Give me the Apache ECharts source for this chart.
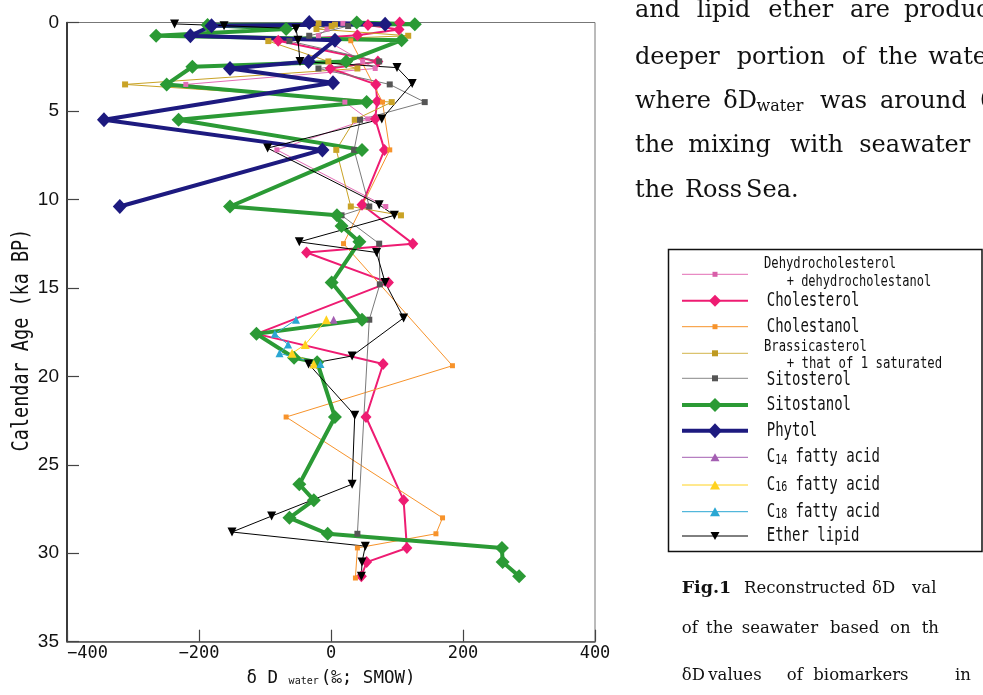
<!DOCTYPE html>
<html><head><meta charset="utf-8">
<script src="https://cdn.jsdelivr.net/npm/echarts@6/dist/echarts.min.js"></script>
<style>html,body{margin:0;padding:0;background:#fff;}#c{width:983px;height:695px;}</style>
</head><body><div id="c"></div>
<script>
// ---- data (age in ka BP, dD water in permil SMOW) ----
const xTicks = [-400, -200, 0, 200, 400];
const yTicks = [0, 5, 10, 15, 20, 25, 30, 35];

const dehydroAge = [0.05, 0.37, 0.75, 2.2, 2.6, 3.5, 4.5, 5.45, 7.2, 10.4];
const dehydroDD  = [18, -6, -19, 48, 67, -220, 21, 56, -82, 83];

const cholesterolAge = [0, 0.14, 0.39, 0.72, 1.03, 2.2, 2.6, 3.5, 4.45, 5.45, 7.2, 10.3, 12.5, 13.0, 14.7, 17.6, 19.3, 22.3, 27.0, 29.7, 30.5, 31.3];
const cholesterolDD  = [104, 56, 103, 40, -80, 71, -1, 68, 70, 67, 81, 47, 124, -37, 87, -113, 79, 53, 110, 115, 54, 46];

const cholestanolAge = [1.03, 4.5, 7.2, 12.5, 19.4, 22.3, 28.0, 28.9, 29.7, 31.4];
const cholestanolDD  = [30, 78, 89, 19, 184, -68, 169, 159, 40, 37];

const brassicaAge = [0.05, 0.12, 0.2, 0.37, 0.75, 1.05, 2.2, 2.6, 3.5, 4.5, 5.5, 7.2, 10.4, 10.9];
const brassicaDD  = [-19, 6, 1, -22, 117, -95, -4, 40, -312, 92, 36, 8, 30, 106];

const sitosterolAge = [0.2, 0.75, 1.05, 2.2, 2.6, 3.5, 4.5, 5.5, 7.2, 10.4, 10.9, 12.5, 14.8, 16.8, 28.9];
const sitosterolDD  = [26, -33, -63, 73, -19, 89, 142, 44, 35, 58, 16, 73, 74, 58, 40];

const sitostanolAge = [0, 0.1, 0.14, 0.37, 0.75, 1.0, 2.2, 2.5, 3.5, 4.5, 5.5, 7.2, 10.4, 10.9, 11.5, 12.4, 14.7, 16.8, 17.6, 18.95, 19.2, 22.3, 26.1, 27.0, 28.0, 28.9, 29.7, 30.5, 31.3];
const sitostanolDD  = [39, 127, -187, -68, -265, 107, 23, -210, -249, 54, -231, 47, -153, 9, 16, 43, 1, 47, -113, -56, -21, 6, -48, -26, -63, -5, 259, 260, 285];

const phytolAge = [0, 0.1, 0.18, 0.75, 1.0, 2.2, 2.6, 3.4, 5.5, 7.2, 10.4];
const phytolDD  = [-33, 82, -181, -213, 6, -34, -153, 3, -344, -13, -320];

const c14Age = [16.8];
const c14DD  = [4];

const c16Age = [16.8, 18.2, 18.7, 19.3];
const c16DD  = [-7, -39, -59, -26];

const c18Age = [16.8, 17.6, 18.2, 18.7, 19.3];
const c18DD  = [-53, -85, -65, -78, -16];

const etherAge = [0.08, 0.18, 0.35, 1.0, 2.2, 2.55, 3.45, 5.45, 7.1, 10.3, 10.9, 12.4, 13.0, 14.7, 16.7, 18.85, 19.3, 22.2, 26.1, 27.9, 28.8, 29.6, 30.5, 31.3];
const etherDD  = [-237, -162, -53, -50, -47, 100, 123, 77, -96, 73, 96, -48, 69, 82, 110, 32, -34, 36, 32, -90, -150, 52, 47, 46];

// ---- styles ----
const C = {
  dehydro: '#E36DB5', chol: '#EE1C72', cholan: '#F7932B', brass: '#C9A326',
  sitoster: '#7A7A7A', sitostan: '#2B9A35', phytol: '#1D1A7F',
  c14: '#A45FB2', c16: '#FFD21E', c18: '#2AA7D3', ether: '#000000'
};

function pairs(xs, ys) { return xs.map((x, i) => [x, ys[i]]); }
function mk(name, xs, ys, color, width, symbol, size, extra) {
  return Object.assign({
    name, type: 'line', data: pairs(xs, ys), symbol, symbolSize: size,
    showAllSymbol: true, silent: true, animation: false,
    lineStyle: { color, width }, itemStyle: { color }
  }, extra || {});
}

const series = [
  mk('Dehydrocholesterol', dehydroDD, dehydroAge, C.dehydro, 1, 'rect', 5),
  mk('Cholesterol', cholesterolDD, cholesterolAge, C.chol, 2, 'diamond', [11, 12]),
  mk('Cholestanol', cholestanolDD, cholestanolAge, C.cholan, 1, 'rect', 5),
  mk('Brassicasterol', brassicaDD, brassicaAge, C.brass, 1, 'rect', 6),
  mk('Sitosterol', sitosterolDD, sitosterolAge, C.sitoster, 1, 'rect', 6, { itemStyle: { color: '#555555' } }),
  mk('Sitostanol', sitostanolDD, sitostanolAge, C.sitostan, 4, 'diamond', [14, 14]),
  mk('Phytol', phytolDD, phytolAge, C.phytol, 4, 'diamond', [14, 15]),
  mk('C14 fatty acid', c14DD, c14Age, C.c14, 1, 'triangle', 8),
  mk('C16 fatty acid', c16DD, c16Age, C.c16, 1, 'triangle', 9),
  mk('C18 fatty acid', c18DD, c18Age, C.c18, 1, 'triangle', 8),
  mk('Ether lipid', etherDD, etherAge, C.ether, 1, 'triangle', 9, { symbolRotate: 180 })
];

// ---- legend (drawn as graphics) ----
const LX1 = 682, LX2 = 748, LM = 715;
const rowsY = [274.3, 300.7, 326.7, 353.3, 378.3, 405, 430.7, 457.3, 485, 511.7, 536];
const graphics = [];
graphics.push({ type: 'rect', shape: { x: 668.5, y: 249.5, width: 313.5, height: 302 },
  style: { fill: 'none', stroke: '#111', lineWidth: 1.5 } });
function legLine(y, color, w) {
  graphics.push({ type: 'line', shape: { x1: LX1, y1: y, x2: LX2, y2: y }, style: { stroke: color, lineWidth: w } });
}
function sq(y, color, s) {
  graphics.push({ type: 'rect', shape: { x: LM - s / 2, y: y - s / 2, width: s, height: s }, style: { fill: color } });
}
function dia(y, color, w, h) {
  graphics.push({ type: 'polygon', shape: { points: [[LM, y - h / 2], [LM + w / 2, y], [LM, y + h / 2], [LM - w / 2, y]] }, style: { fill: color } });
}
function tri(y, color, s, down) {
  const h = s * 0.9;
  const pts = down ? [[LM - s / 2, y - h / 2], [LM + s / 2, y - h / 2], [LM, y + h / 2]]
                   : [[LM - s / 2, y + h / 2], [LM + s / 2, y + h / 2], [LM, y - h / 2]];
  graphics.push({ type: 'polygon', shape: { points: pts }, style: { fill: color } });
}
const monoFont = '"DejaVu Sans Mono", monospace';
function ltext(x, y, txt, size, sy, rich) {
  const el = { type: 'text', x, y, scaleY: sy,
    style: { text: txt, font: size + 'px ' + monoFont, fill: '#111', verticalAlign: 'middle', align: 'left' } };
  if (rich) el.style.rich = rich;
  graphics.push(el);
}
legLine(rowsY[0], C.dehydro, 1); sq(rowsY[0], '#D85EA8', 5);
legLine(rowsY[1], C.chol, 2); dia(rowsY[1], C.chol, 12, 12);
legLine(rowsY[2], C.cholan, 1); sq(rowsY[2], C.cholan, 5);
legLine(rowsY[3], '#D2B44A', 1); sq(rowsY[3], '#BF9A22', 6);
legLine(rowsY[4], '#888', 1); sq(rowsY[4], '#555', 6);
legLine(rowsY[5], C.sitostan, 4); dia(rowsY[5], C.sitostan, 14, 14);
legLine(rowsY[6], C.phytol, 4); dia(rowsY[6], C.phytol, 14, 15);
legLine(rowsY[7], C.c14, 1); tri(rowsY[7], C.c14, 9, false);
legLine(rowsY[8], C.c16, 1); tri(rowsY[8], C.c16, 10, false);
legLine(rowsY[9], C.c18, 1); tri(rowsY[9], C.c18, 10, false);
legLine(rowsY[10], C.ether, 1); tri(rowsY[10], C.ether, 9, true);

ltext(764, 264, 'Dehydrocholesterol', 12.2, 1.25);
ltext(786.7, 281.7, '+ dehydrocholestanol', 12, 1.25);
ltext(766.7, rowsY[1], 'Cholesterol', 14, 1.35);
ltext(766.7, rowsY[2], 'Cholestanol', 14, 1.35);
ltext(764, 347.3, 'Brassicasterol', 12.2, 1.25);
ltext(786.7, 364.3, '+ that of 1 saturated', 12.3, 1.25);
ltext(766.7, rowsY[4] + 2, 'Sitosterol', 14, 1.35);
ltext(766.7, rowsY[5], 'Sitostanol', 14, 1.35);
ltext(766.7, rowsY[6], 'Phytol', 14, 1.35);
const subRich = { a: { font: '14px ' + monoFont, fill: '#111' }, b: { font: '10px ' + monoFont, fill: '#111', padding: [4, 0, 0, 0] } };
ltext(766.7, rowsY[7], '{a|C}{b|14}{a| fatty acid}', 14, 1.35, subRich);
ltext(766.7, rowsY[8], '{a|C}{b|16}{a| fatty acid}', 14, 1.35, subRich);
ltext(766.7, rowsY[9], '{a|C}{b|18}{a| fatty acid}', 14, 1.35, subRich);
ltext(766.7, rowsY[10], 'Ether lipid', 14, 1.35);

// y-axis title (rotated)
graphics.push({ type: 'text', x: 22, y: 340, rotation: Math.PI / 2, scaleY: 1.25,
  style: { text: 'Calendar Age (ka BP)', font: '18.5px ' + monoFont, fill: '#111', align: 'center', verticalAlign: 'middle' } });

// ---- surrounding paper text (placed word by word) ----
const serif = '"DejaVu Serif", serif';
function word(x, base, txt, size, bold) {
  graphics.push({ type: 'text', x, y: base - size * 0.3,
    style: { text: txt, font: (bold ? 'bold ' : '') + size + 'px ' + serif, fill: '#111', verticalAlign: 'middle', align: 'left' } });
}
const B = 24;
[[635, 'and'], [696.7, 'lipid'], [768.3, 'ether'], [850, 'are'], [904, 'produc']].forEach(w => word(w[0], 18.3, w[1], B));
[[635, 'deeper'], [736.7, 'portion'], [841.7, 'of'], [878.3, 'the'], [928.3, 'wate']].forEach(w => word(w[0], 65, w[1], B));
[[635, 'where'], [723.3, 'δD'], [880, 'around'], [820, 'was'], [980, '0']].forEach(w => word(w[0], 109.3, w[1], B));
word(756.5, 112, 'water', 16);
[[635, 'the'], [688.3, 'mixing'], [790, 'with'], [859.3, 'seawater']].forEach(w => word(w[0], 153.3, w[1], B));
[[635, 'the'], [685, 'Ross'], [746, 'Sea.']].forEach(w => word(w[0], 198.3, w[1], B));
const S = 16.5;
word(681.7, 594, 'Fig.1', 17.5, true);
[[744, 'Reconstructed'], [872, 'δD'], [912, 'val']].forEach(w => word(w[0], 594, w[1], S));
[[681.7, 'of'], [706, 'the'], [741.7, 'seawater'], [830, 'based'], [890, 'on'], [921.7, 'th']].forEach(w => word(w[0], 634, w[1], S));
[[681.7, 'δD'], [708.3, 'values'], [786.7, 'of'], [813.3, 'biomarkers'], [955, 'in']].forEach(w => word(w[0], 681, w[1], S));

const chart = echarts.init(document.getElementById('c'), null, { renderer: 'canvas' });
chart.setOption({
  animation: false,
  backgroundColor: '#fff',
  grid: { left: 67, right: 388, top: 22.5, bottom: 53.3, show: true, borderColor: '#777', borderWidth: 1, backgroundColor: 'transparent' },
  xAxis: {
    type: 'value', min: xTicks[0], max: xTicks[xTicks.length - 1], interval: 200,
    axisLine: { show: true, onZero: false, lineStyle: { color: '#555', width: 1.5 } },
    axisTick: { show: true, inside: true, length: 12, lineStyle: { color: '#444', width: 1.2 } },
    splitLine: { show: false },
    axisLabel: { margin: 3, color: '#111', fontFamily: monoFont, fontSize: 17, alignMinLabel: 'left',
      formatter: v => xTicks.includes(v) ? String(v).replace('-', '−') : '' },
    name: '{d|δ D }{s|water}{d|(‰; SMOW)}', nameLocation: 'middle', nameGap: 28,
    nameTextStyle: { rich: {
      d: { fontFamily: monoFont, fontSize: 17.5, color: '#111' },
      s: { fontFamily: monoFont, fontSize: 10, color: '#111', padding: [6, 2, 0, 0] } } }
  },
  yAxis: {
    type: 'value', inverse: true, min: yTicks[0], max: yTicks[yTicks.length - 1], interval: 5,
    axisLine: { show: true, onZero: false, lineStyle: { color: '#111', width: 1.5 } },
    axisTick: { show: true, inside: true, length: 12, lineStyle: { color: '#444', width: 1.2 } },
    splitLine: { show: false },
    axisLabel: { margin: 8, color: '#111', fontFamily: '"Liberation Sans", Arial, sans-serif', fontSize: 19,
      formatter: v => yTicks.includes(v) ? String(v) : '' }
  },
  series,
  graphic: graphics
});
</script></body></html>
